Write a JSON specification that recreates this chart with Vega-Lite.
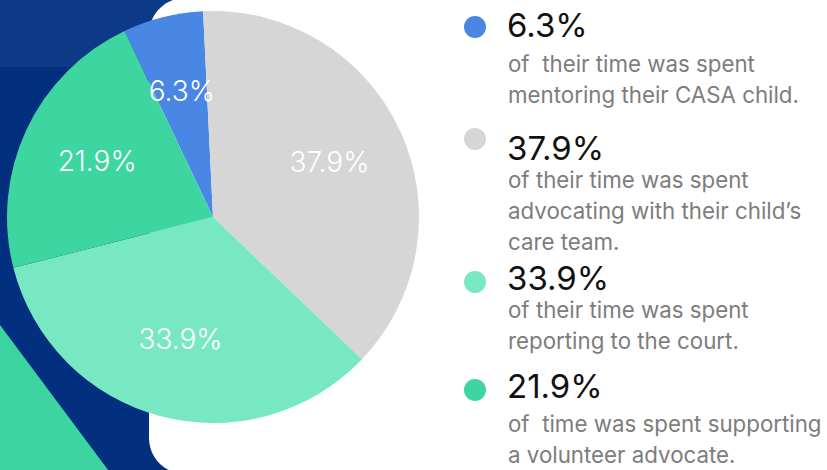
{
  "$schema": "https://vega.github.io/schema/vega-lite/v6.json",
  "width": 827,
  "height": 470,
  "autosize": {"type": "none"},
  "padding": 0,
  "background": "#02307f",
  "view": {"stroke": null, "fill": null},
  "config": {"font": "Inter"},
  "datasets": {
    "time": [
      {"rank": 1, "activity": "Mentoring their CASA child", "share": 6.3, "label": "6.3%", "desc": ["of\u00a0 their time was spent", "mentoring their CASA child."]},
      {"rank": 2, "activity": "Advocating with their child's care team", "share": 37.9, "label": "37.9%", "desc": ["of their time was spent", "advocating with their child’s", "care team."]},
      {"rank": 3, "activity": "Reporting to the court", "share": 33.9, "label": "33.9%", "desc": ["of their time was spent", "reporting to the court."]},
      {"rank": 4, "activity": "Supporting a volunteer advocate", "share": 21.9, "label": "21.9%", "desc": ["of\u00a0 time was spent supporting", "a volunteer advocate."]}
    ],
    "decor": [{"shape": "backdrop"}]
  },
  "resolve": {"scale": {"y": "independent"}},
  "layer": [
    {
      "data": {"name": "decor"},
      "mark": {"type": "rect", "x": 0, "x2": 200, "y": 0, "y2": 67, "color": "#0c3a86"},
      "encoding": {}
    },
    {
      "data": {"name": "decor"},
      "mark": {"type": "arc", "x": 0, "y": 325, "theta": 2.501, "theta2": 3.1416, "outerRadius": 330, "innerRadius": 0, "color": "#3cd4a0"},
      "encoding": {}
    },
    {
      "data": {"name": "decor"},
      "mark": {"type": "rect", "x": 149, "x2": 900, "y": -2, "y2": 474, "cornerRadius": 36, "color": "#ffffff"},
      "encoding": {}
    },
    {
      "data": {"name": "time"},
      "mark": {"type": "arc", "x": 213, "y": 217, "outerRadius": 206, "strokeWidth": 0},
      "encoding": {
        "theta": {"field": "share", "type": "quantitative", "stack": true, "scale": {"range": [-0.444, 5.8392]}},
        "color": {
          "field": "activity", "type": "nominal",
          "scale": {
            "domain": ["Mentoring their CASA child", "Advocating with their child's care team", "Reporting to the court", "Supporting a volunteer advocate"],
            "range": ["#4a87e5", "#d6d6d6", "#78e8c2", "#3dd5a0"]
          },
          "legend": null
        },
        "order": {"field": "rank", "type": "quantitative"}
      }
    },
    {
      "data": {"name": "time"},
      "mark": {"type": "text", "x": 213, "y": 217, "radius": 128, "fontSize": 28, "fontWeight": 300, "color": "#ffffff", "align": "center", "baseline": "middle"},
      "encoding": {
        "theta": {"field": "share", "type": "quantitative", "stack": true},
        "text": {"field": "label", "type": "nominal"},
        "order": {"field": "rank", "type": "quantitative"}
      }
    },
    {
      "data": {"name": "time"},
      "mark": {"type": "circle", "x": 475, "size": 484, "opacity": 1},
      "encoding": {
        "y": {"field": "rank", "type": "quantitative", "scale": {"domain": [1, 2, 3, 4], "range": [27, 139, 282, 390], "nice": false, "zero": false}, "axis": null},
        "color": {"field": "activity", "type": "nominal", "legend": null}
      }
    },
    {
      "data": {"name": "time"},
      "mark": {"type": "text", "x": 507, "align": "left", "baseline": "middle", "fontSize": 33, "color": "#111111"},
      "encoding": {
        "y": {"field": "rank", "type": "quantitative", "scale": {"domain": [1, 2, 3, 4], "range": [27, 150, 280, 388], "nice": false, "zero": false}, "axis": null},
        "text": {"field": "label", "type": "nominal"}
      }
    },
    {
      "data": {"name": "time"},
      "mark": {"type": "text", "x": 508, "align": "left", "baseline": "alphabetic", "fontSize": 22.3, "lineHeight": 31, "color": "#7d7d7d"},
      "encoding": {
        "y": {"field": "rank", "type": "quantitative", "scale": {"domain": [1, 2, 3, 4], "range": [72, 188, 318, 432], "nice": false, "zero": false}, "axis": null},
        "text": {"field": "desc", "type": "nominal"}
      }
    }
  ]
}
